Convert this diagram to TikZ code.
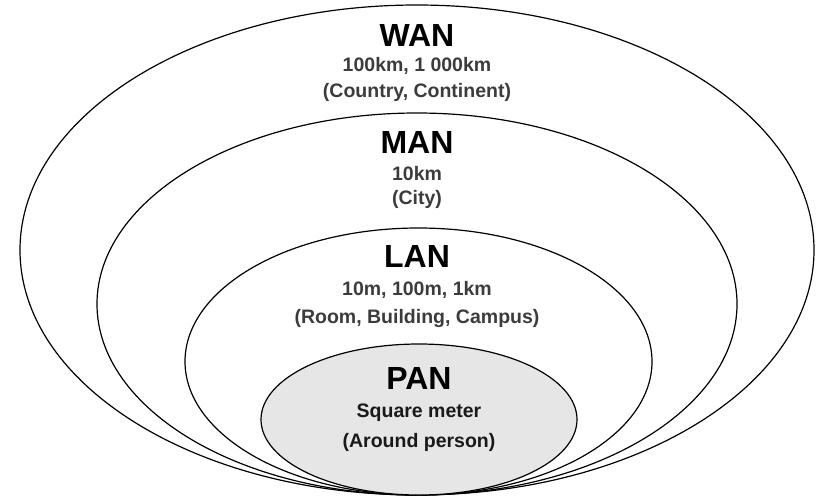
\documentclass[tikz,border=0pt]{standalone}
\usepackage{fontspec}
\setmainfont{Liberation Sans}
\begin{document}
\begin{tikzpicture}[x=1pt,y=-1pt,
  ring/.style={draw=black,line width=1.2pt,fill=white},
  inner ring/.style={draw=black,line width=1.2pt,fill=pangray},
  title/.style={font=\bfseries\fontsize{32}{32}\selectfont,text=black,inner sep=0pt},
  sub/.style={font=\bfseries\fontsize{19.5}{19.5}\selectfont,text=subgray,inner sep=0pt},
  panSub/.style={font=\bfseries\fontsize{19.5}{19.5}\selectfont,text=black!90,inner sep=0pt}]
\definecolor{pangray}{HTML}{E6E6E6}
\definecolor{subgray}{HTML}{3C3C3C}
\useasboundingbox[fill=white] (0,0) rectangle (818,498);

% nested network scopes, all sharing the bottom point
\draw[ring] (417,250) ellipse [x radius=397pt, y radius=245pt];
\draw[ring] (417,304) ellipse [x radius=320pt, y radius=191pt];
\draw[ring] (418.5,361.5) ellipse [x radius=233.5pt, y radius=133.5pt];
\draw[inner ring] (419,419.5) ellipse [x radius=158pt, y radius=75.5pt];

% WAN
\node[title] (wan) at (417,35) {WAN};
\node[sub] (wan1) at (417,66) {100km, 1 000km};
\node[sub] (wan2) at (417,92) {(Country, Continent)};
% MAN
\node[title] (man) at (417,142) {MAN};
\node[sub] (man1) at (417,174) {10km};
\node[sub] (man2) at (417,199) {(City)};
% LAN
\node[title] (lan) at (417,256) {LAN};
\node[sub] (lan1) at (417,290) {10m, 100m, 1km};
\node[sub] (lan2) at (417,318) {(Room, Building, Campus)};
% PAN
\node[title] (pan) at (419,378) {PAN};
\node[panSub] (pan1) at (419,413) {Square meter};
\node[panSub] (pan2) at (419,442) {(Around person)};
\end{tikzpicture}
\end{document}
